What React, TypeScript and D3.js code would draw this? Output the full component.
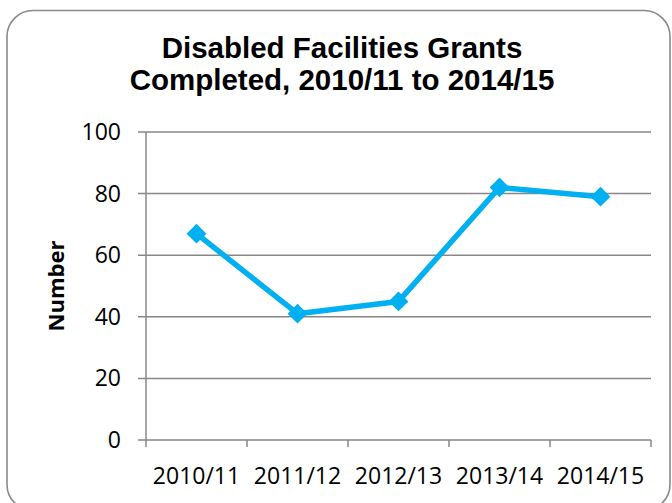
import * as d3 from 'd3';
import React from 'react';

const years = ['2010/11', '2011/12', '2012/13', '2013/14', '2014/15'];
const grants = [67, 41, 45, 82, 79];
const yTicks = [0, 20, 40, 60, 80, 100];
const titleLines = ['Disabled Facilities Grants', 'Completed, 2010/11 to 2014/15'];

const WIDTH = 672;
const HEIGHT = 503;
const PLOT = { left: 146, right: 651, top: 132, bottom: 440 };

const GRID = '#878787';
const LINE = '#00b0f0';
const TICK_FONT = '"Open Sans", sans-serif';

export default function App() {
  const xScale = d3.scaleBand().domain(years).range([PLOT.left, PLOT.right]);
  const yScale = d3.scaleLinear().domain([0, 100]).range([PLOT.bottom, PLOT.top]);

  const line = d3
    .line<number>()
    .x((_, i) => (xScale(years[i]) ?? 0) + xScale.bandwidth() / 2)
    .y(d => yScale(d));

  const diamond = d3.symbol().type(d3.symbolDiamond2).size(250)();

  // band edges for the x tick marks
  const xEdges = [...years.map(y => xScale(y) ?? 0), PLOT.right];

  return (
    <svg
      width={WIDTH}
      height={HEIGHT}
      style={{ position: 'absolute', left: 0, top: 0, display: 'block', background: '#fff' }}
    >
      <rect x={7} y={10.5} width={663} height={500} rx={26} fill="#fff" stroke="#8a8a8a" strokeWidth={1.6} />

      {titleLines.map((t, i) => (
        <text
          key={t}
          x={342}
          y={58 + i * 32}
          textAnchor="middle"
          fontFamily='"Liberation Sans", Arial, sans-serif'
          fontWeight="bold"
          fontSize={29.5}
          fill="#000"
        >
          {t}
        </text>
      ))}

      {/* horizontal gridlines + y ticks */}
      {yTicks.map(t => (
        <g key={t}>
          <line x1={PLOT.left - 8} x2={PLOT.right} y1={yScale(t)} y2={yScale(t)} stroke={GRID} strokeWidth={1.5} />
          <text
            x={121}
            y={yScale(t)}
            dy="0.35em"
            textAnchor="end"
            fontFamily={TICK_FONT}
            fontSize={23}
            fill="#000"
          >
            {t}
          </text>
        </g>
      ))}

      {/* y axis */}
      <line x1={PLOT.left} x2={PLOT.left} y1={PLOT.top} y2={PLOT.bottom} stroke={GRID} strokeWidth={1.5} />

      {/* x ticks */}
      {xEdges.map((x, i) => (
        <line key={i} x1={x} x2={x} y1={PLOT.bottom} y2={PLOT.bottom + 7} stroke={GRID} strokeWidth={1.5} />
      ))}

      {years.map(y => (
        <text
          key={y}
          x={(xScale(y) ?? 0) + xScale.bandwidth() / 2}
          y={484}
          textAnchor="middle"
          fontFamily={TICK_FONT}
          fontSize={23}
          fill="#000"
        >
          {y}
        </text>
      ))}

      <text
        transform={`translate(64,${(PLOT.top + PLOT.bottom) / 2}) rotate(-90)`}
        textAnchor="middle"
        fontFamily={TICK_FONT}
        fontWeight="bold"
        fontSize={22}
        fill="#000"
      >
        Number
      </text>

      <path d={line(grants) ?? ''} fill="none" stroke={LINE} strokeWidth={5.5} strokeLinejoin="round" />
      {grants.map((v, i) => (
        <path
          key={i}
          d={diamond ?? ''}
          transform={`translate(${(xScale(years[i]) ?? 0) + xScale.bandwidth() / 2},${yScale(v)})`}
          fill={LINE}
        />
      ))}
    </svg>
  );
}
